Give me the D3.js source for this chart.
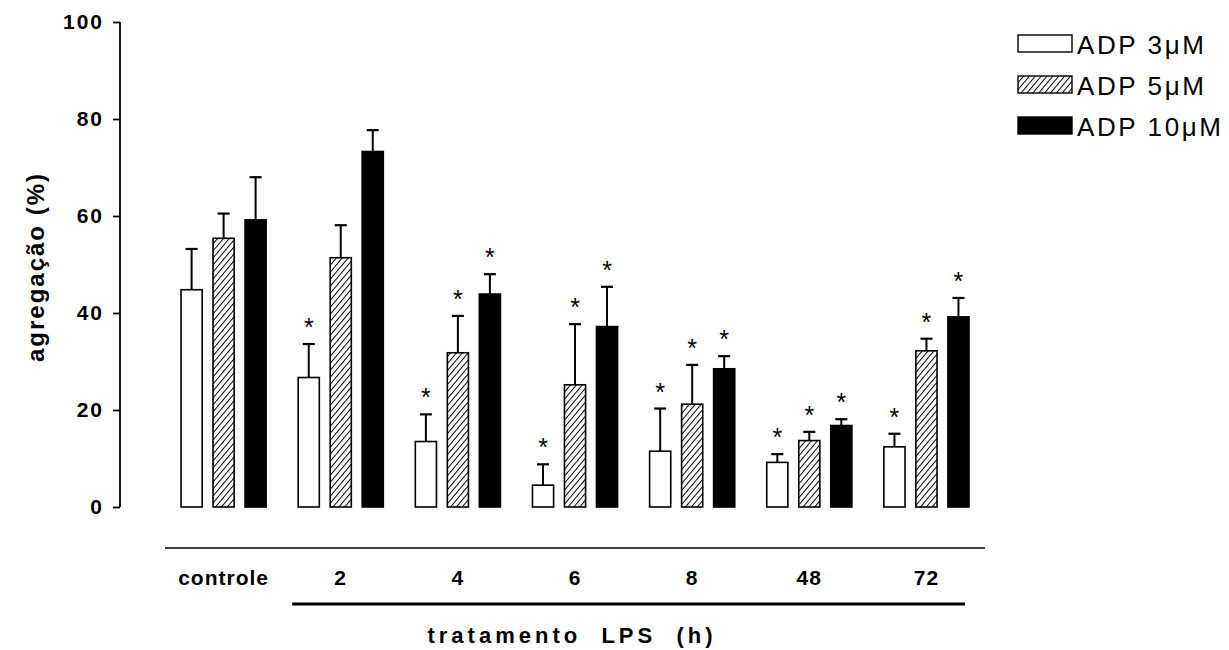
<!DOCTYPE html>
<html><head><meta charset="utf-8">
<script src="https://cdn.jsdelivr.net/npm/d3@7"></script>
<style>body{margin:0;background:#fff}svg{display:block}</style>
</head><body>
<svg id="c" width="1229" height="650"></svg>
<script>
const categories = ["controle","2","4","6","8","48","72"];
const seriesNames = ["ADP 3\u03bcM","ADP 5\u03bcM","ADP 10\u03bcM"];
const adp3 = [44.8, 26.7, 13.5, 4.5, 11.5, 9.2, 12.4];
const adp5 = [55.4, 51.4, 31.8, 25.2, 21.2, 13.7, 32.2];
const adp10 = [59.2, 73.3, 43.9, 37.2, 28.5, 16.8, 39.2];
const err3 = [8.4, 6.9, 5.6, 4.3, 8.8, 1.7, 2.7];
const err5 = [5.1, 6.7, 7.6, 12.5, 8.1, 1.8, 2.5];
const err10 = [8.8, 4.4, 4.1, 8.2, 2.6, 1.3, 3.9];
const sig3 = [0,1,1,1,1,1,1];
const sig5 = [0,0,1,1,1,1,1];
const sig10 = [0,0,1,1,1,1,1];
const yTicks = [0,20,40,60,80,100];

const svg = d3.select("#c");
const font = "'Liberation Sans', Arial, sans-serif";

const defs = svg.append("defs");
const pat = defs.append("pattern").attr("id","hatch").attr("patternUnits","userSpaceOnUse")
  .attr("width",4.5).attr("height",4.5).attr("patternTransform","rotate(40)");
pat.append("rect").attr("width",4.5).attr("height",4.5).attr("fill","#fff");
pat.append("line").attr("x1",0.5).attr("y1",0).attr("x2",0.5).attr("y2",4.5).attr("stroke","#000").attr("stroke-width",1);
const fills = ["#fff","url(#hatch)","#000"];

const x0 = d3.scaleBand().domain(categories).range([165,985]);
const x1 = d3.scaleBand().domain(seriesNames).range([10.6,106.6]).paddingInner(0.34).paddingOuter(0.17);
const y = d3.scaleLinear().domain([0,100]).range([507,22]);

const vals = [adp3, adp5, adp10], errs=[err3,err5,err10], sigs=[sig3,sig5,sig10];
const data = [];
categories.forEach((c,i)=>seriesNames.forEach((s,j)=>data.push({c,s,j,v:vals[j][i],e:errs[j][i],sig:sigs[j][i]})));

// error bars
const g = svg.append("g");
data.forEach(d=>{
  const cx = x0(d.c)+x1(d.s)+x1.bandwidth()/2;
  g.append("line").attr("x1",cx).attr("x2",cx).attr("y1",y(d.v)).attr("y2",y(d.v+d.e)).attr("stroke","#000").attr("stroke-width",2);
  g.append("line").attr("x1",cx-6).attr("x2",cx+6).attr("y1",y(d.v+d.e)).attr("y2",y(d.v+d.e)).attr("stroke","#000").attr("stroke-width",2.2);
  if(d.sig) g.append("text").attr("x",cx).attr("y",y(d.v+d.e)-8).attr("text-anchor","middle")
    .attr("font-family",font).attr("font-size",25).text("*");
});
g.selectAll("rect.bar").data(data).enter().append("rect").attr("class","bar")
  .attr("x",d=>x0(d.c)+x1(d.s)).attr("width",x1.bandwidth())
  .attr("y",d=>y(d.v)).attr("height",d=>y(0)-y(d.v))
  .attr("fill",d=>fills[d.j]).attr("stroke","#000").attr("stroke-width",1.6);

// y axis
const ya = svg.append("g").attr("transform","translate(120,0)")
  .call(d3.axisLeft(y).tickValues(yTicks).tickSize(7).tickPadding(9));
ya.select(".domain").attr("stroke-width",1.8).attr("d","M0,"+y(100)+"V"+y(0));
ya.selectAll(".tick line").attr("stroke-width",1.8);
ya.selectAll("text").attr("font-family",font).attr("font-size",21).attr("font-weight","bold")
  .attr("letter-spacing",2).attr("fill","#000");
svg.append("text").attr("transform","translate(44,267) rotate(-90)").attr("text-anchor","middle")
  .attr("font-family",font).attr("font-size",24).attr("font-weight","bold").attr("letter-spacing",2).text("agregação (%)");

// x axis
svg.append("line").attr("x1",165).attr("x2",985).attr("y1",548).attr("y2",548).attr("stroke","#000").attr("stroke-width",1.5);
svg.selectAll("text.xl").data(categories).enter().append("text").attr("class","xl")
  .attr("x",d=>x0(d)+x0.bandwidth()/2).attr("y",585).attr("text-anchor","middle")
  .attr("font-family",font).attr("font-size",21).attr("font-weight","bold").attr("letter-spacing",1).text(d=>d);
svg.append("line").attr("x1",x0("2")+10).attr("x2",x0("72")+x0.bandwidth()-20).attr("y1",604).attr("y2",604).attr("stroke","#000").attr("stroke-width",3);
svg.append("text").attr("x",572).attr("y",643).attr("text-anchor","middle").attr("letter-spacing",4)
  .attr("font-family",font).attr("font-size",22).attr("font-weight","bold").style("white-space","pre").text("tratamento  LPS  (h)");

// legend
const lg = svg.append("g");
seriesNames.forEach((s,j)=>{
  const yy = 35 + j*41;
  lg.append("rect").attr("x",1018).attr("y",yy).attr("width",54).attr("height",17).attr("fill",fills[j]).attr("stroke","#000").attr("stroke-width",1.4);
  lg.append("text").attr("x",1077).attr("y",yy+19).attr("font-family",font).attr("font-size",26).attr("letter-spacing",2.6).text(s);
});
</script>
</body></html>
